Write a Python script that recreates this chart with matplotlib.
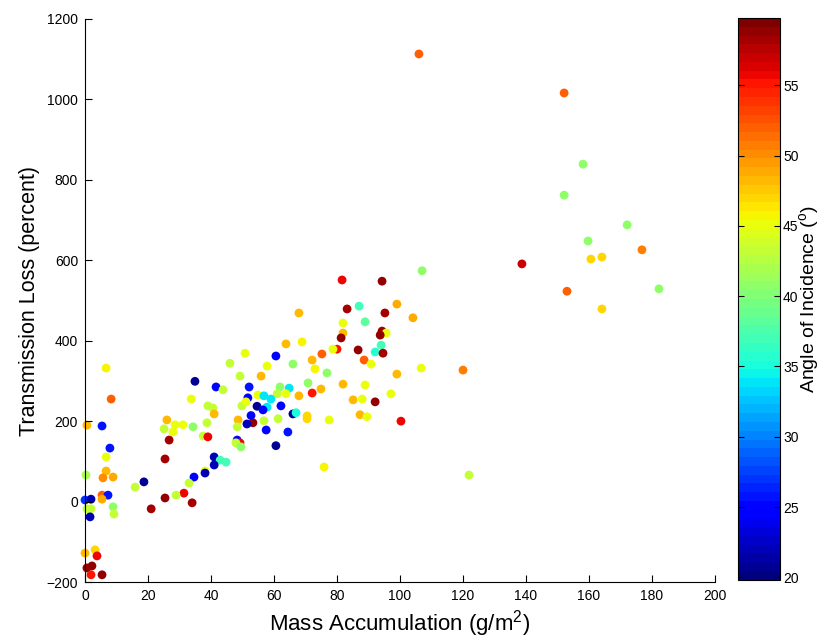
import matplotlib
matplotlib.use("Agg")
import matplotlib.pyplot as plt
import numpy as np

plt.rcParams['font.family'] = ['Liberation Sans', 'DejaVu Sans']
plt.rcParams['mathtext.fontset'] = 'custom'
plt.rcParams['mathtext.rm'] = 'Liberation Sans'
plt.rcParams['mathtext.it'] = 'Liberation Sans:italic'

# Mass accumulation (g/m^2)
mass = [
    106.0, 152.1, 158.1, 152.1, 172.1, 159.7, 176.8, 160.6, 164.1, 138.7,
    153.0, 182.2, 164.1, 107.0, 104.1, 106.7, 120.0, 121.9, 100.3,
    81.6, 94.3, 67.9, 83.2, 87.0, 99.0, 95.2, 81.9, 88.9, 81.9,
    81.3, 94.3, 95.6, 93.7, 94.0, 92.1, 94.6, 88.6, 90.8, 86.7,
    80.0, 78.7, 75.2, 72.1, 73.0, 76.8, 63.8, 68.9, 60.6, 66.0,
    57.8, 55.9, 70.8, 74.9, 72.1, 67.9, 81.9, 88.9, 99.0, 97.1,
    92.1, 85.1, 88.0, 87.3, 89.5, 70.5, 70.5, 77.5, 75.9, 60.6,
    64.4, 66.0, 67.0, 61.3, 56.8, 53.3, 57.5, 52.7, 51.4, 61.9,
    64.8, 61.0, 63.8, 54.9, 56.8, 59.0, 57.8, 54.6, 56.5, 62.2,
    52.1, 50.8, 46.0, 49.2, 34.9, 41.6, 43.8, 33.7, 51.7, 39.0,
    40.6, 49.8, 51.1, 41.0, 48.6, 26.0, 28.6, 31.1, 34.3, 38.7,
    25.1, 27.9, 48.3, 37.5, 39.0, 26.7, 48.3, 49.2, 47.9, 49.5,
    25.4, 41.0, 42.9, 44.8, 41.0, 34.6, 38.1, 38.1, 33.0, 31.4,
    28.9, 25.4, 34.0, 18.7, 15.9, 21.0,
    6.7, 8.3, 0.6, 5.4, 7.9, 6.7, 0.3, 6.7, 5.7, 8.9,
    5.4, 7.3, 5.4, 0.0, 1.9, 0.6, 1.9, 8.9, 9.2, 1.6,
    0.0, 3.2, 3.8, 0.6, 2.2, 1.9, 5.4,
]

# Transmission loss (percent)
loss = [
    1113, 1016, 839, 762, 688, 648, 626, 603, 608, 591,
    523, 529, 479, 574, 457, 332, 327, 66, 200,
    551, 548, 469, 479, 486, 491, 469, 444, 447, 419,
    407, 424, 419, 414, 389, 372, 369, 352, 342, 377,
    379, 379, 367, 352, 330, 320, 392, 397, 362, 342,
    337, 312, 295, 280, 270, 263, 292, 290, 317, 268,
    248, 253, 255, 216, 211, 213, 206, 203, 86, 139,
    173, 218, 221, 206, 201, 196, 178, 214, 193, 285,
    282, 268, 268, 265, 263, 255, 235, 237, 228, 238,
    285, 369, 344, 312, 299, 285, 278, 255, 258, 238,
    233, 238, 248, 218, 203, 203, 191, 191, 186, 196,
    181, 173, 186, 163, 161, 153, 153, 146, 146, 136,
    106, 111, 103, 98, 91, 61, 76, 71, 46, 21,
    16, 9, -3, 49, 36, -18,
    332, 255, 190, 188, 133, 111, 66, 76, 59, 61,
    16, 16, 6, 4, 6, -18, -18, -13, -31, -38,
    -128, -120, -135, -165, -160, -182, -182,
]

# Angle of incidence (degrees)
angle = [
    52, 52, 41, 41, 41, 41, 51, 47, 47, 57,
    52, 41, 47, 41, 49, 45, 51, 43, 56,
    56, 59, 48, 58, 37, 49, 58, 45, 38, 48,
    59, 58, 45, 59, 37, 36, 58, 52, 45, 59,
    55, 45, 52, 48, 46, 41, 48, 46, 25, 41,
    45, 48, 41, 48, 55, 48, 48, 45, 48, 45,
    59, 48, 45, 48, 45, 47, 47, 45, 46, 21,
    26, 21, 35, 43, 43, 59, 25, 25, 22, 41,
    34, 43, 45, 45, 34, 34, 34, 21, 25, 25,
    26, 45, 43, 43, 21, 25, 43, 45, 25, 43,
    43, 43, 45, 48, 48, 48, 45, 45, 41, 43,
    43, 45, 43, 43, 56, 58, 25, 56, 43, 41,
    58, 22, 37, 37, 22, 25, 45, 22, 43, 56,
    43, 59, 58, 21, 43, 58,
    46, 52, 48, 26, 26, 45, 42, 48, 50, 49,
    52, 26, 49, 27, 22, 43, 43, 41, 43, 22,
    48, 47, 56, 59, 59, 55, 59,
]

x_ticks = [0, 20, 40, 60, 80, 100, 120, 140, 160, 180, 200]
y_ticks = [-200, 0, 200, 400, 600, 800, 1000, 1200]
cbar_ticks = [20, 25, 30, 35, 40, 45, 50, 55]

fig = plt.figure(figsize=(8.23, 6.41), dpi=100)
ax = fig.add_axes([0.1033, 0.092, 0.7655, 0.8784])
cmap = plt.get_cmap('jet', 64)
sc = ax.scatter(mass, loss, c=angle, cmap=cmap, vmin=19.8, vmax=59.8,
                s=40, edgecolors='none', clip_on=False)

ax.set_xlim(0, 200)
ax.set_ylim(-200, 1200)
ax.set_xticks(x_ticks)
ax.set_yticks(y_ticks)
ax.spines['top'].set_visible(False)
ax.spines['right'].set_visible(False)
for sp in ('left', 'bottom'):
    ax.spines[sp].set_linewidth(0.8)
ax.tick_params(direction='in', length=5, width=0.8, labelsize=10, pad=5)
ax.set_xlabel('Mass Accumulation (g/m$^2$)', fontsize=16, labelpad=4)
ax.set_ylabel('Transmission Loss (percent)', fontsize=15.5, labelpad=5)

cax = fig.add_axes([0.897, 0.095, 0.051, 0.877])
cb = fig.colorbar(sc, cax=cax)
cb.set_ticks(cbar_ticks)
cb.outline.set_linewidth(0.8)
cax.tick_params(direction='in', length=4, width=0.8, labelsize=10, pad=2,
                left=True, right=True)
cb.set_label('Angle of Incidence ($^{\\mathrm{o}}$)', fontsize=14, labelpad=-1)

fig.savefig('out.png', dpi=100)
